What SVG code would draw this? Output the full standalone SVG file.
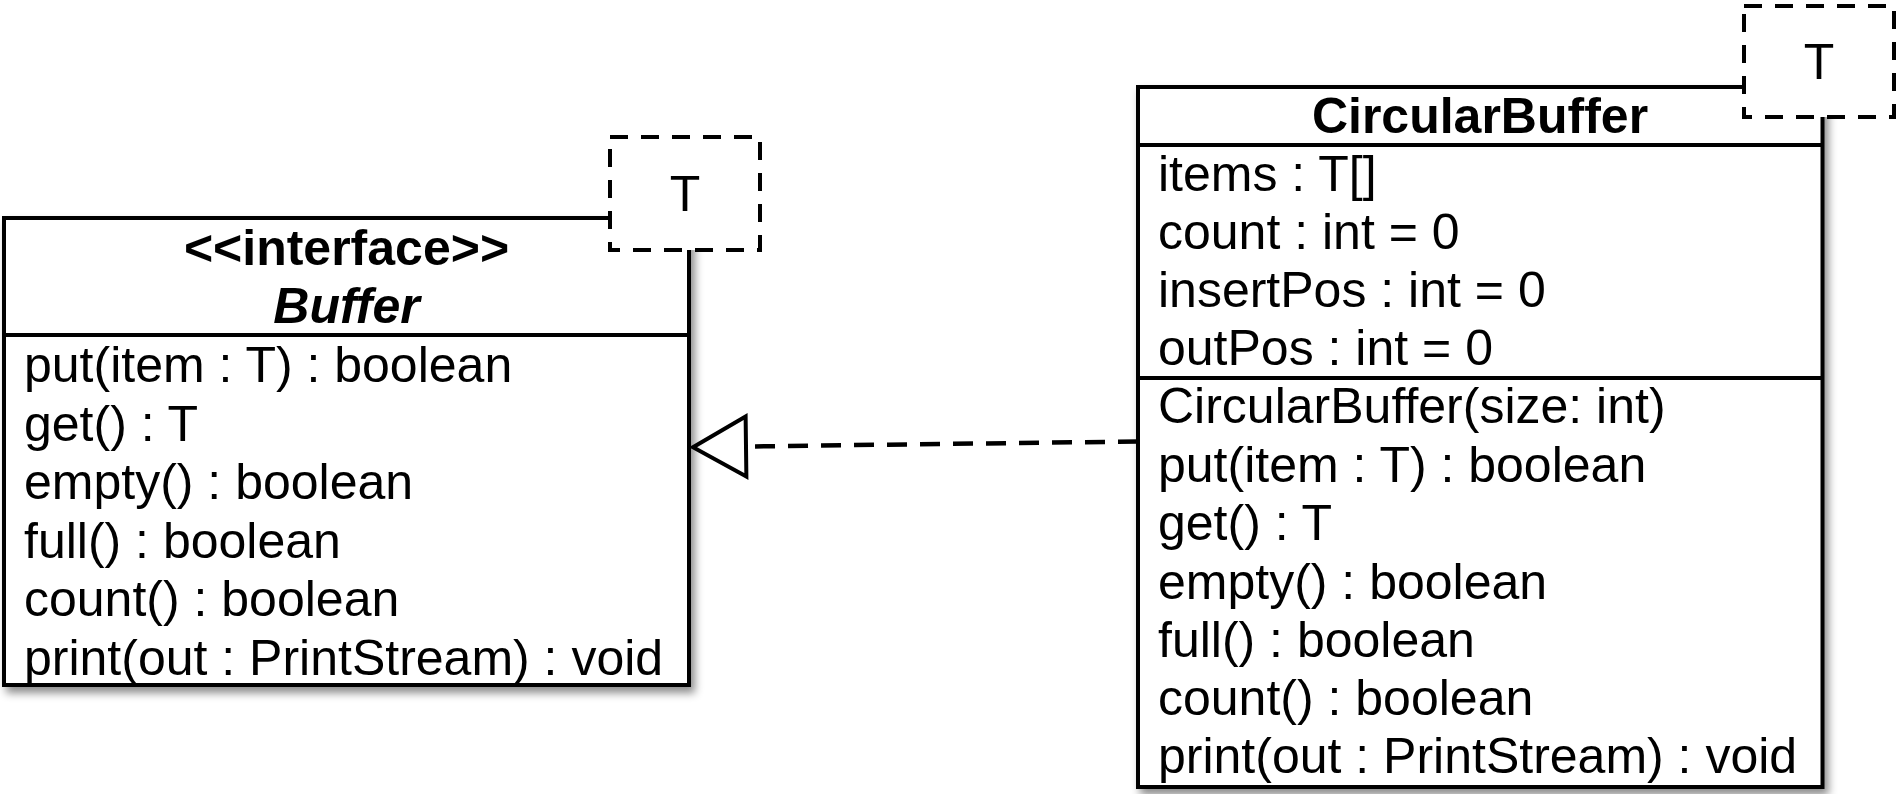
<svg xmlns="http://www.w3.org/2000/svg" width="1898" height="794" viewBox="0 0 1898 794">
  <style>
    text { font-family: "Liberation Sans", Arial, Helvetica, sans-serif; font-size: 50px; fill: #000; }
    .bold { font-weight: bold; }
    .bi { font-weight: bold; font-style: italic; }
    .box { fill: #fff; stroke: #000; stroke-width: 4; filter: url(#shadow); }
    .sep { stroke: #000; stroke-width: 4; }
    .tparam { fill: #fff; stroke: #000; stroke-width: 4; stroke-dasharray: 18 13; }
    .dep { fill: none; stroke: #000; stroke-width: 4.5; stroke-dasharray: 20 13; }
  </style>
  <defs>
    <filter id="shadow" x="-5%" y="-5%" width="115%" height="115%">
      <feDropShadow dx="4" dy="6" stdDeviation="4" flood-color="#000" flood-opacity="0.45"/>
    </filter>
    <marker id="realize" markerUnits="userSpaceOnUse" viewBox="-3 -34 62 68" markerWidth="62" markerHeight="68" refX="0" refY="0" orient="auto">
      <path d="M0,-30 L53,0 L0,30 Z" fill="#fff" stroke="#000" stroke-width="4" stroke-dasharray="none"/>
    </marker>
  </defs>

  <g id="connectors">
    <line class="dep" x1="1138" y1="441.5" x2="746" y2="446.5" marker-end="url(#realize)"/>
  </g>

  <g id="Buffer">
    <rect class="box" x="4" y="218" width="685" height="467"/>
    <line class="sep" x1="4" y1="335" x2="689" y2="335"/>
    <text class="bold" x="346.5" y="265" text-anchor="middle">&lt;&lt;interface&gt;&gt;</text>
    <text class="bi" x="346.5" y="323" text-anchor="middle">Buffer</text>
    <text x="24" y="382">put(item : T) : boolean</text>
    <text x="24" y="440.5">get() : T</text>
    <text x="24" y="499">empty() : boolean</text>
    <text x="24" y="557.5">full() : boolean</text>
    <text x="24" y="616">count() : boolean</text>
    <text x="24" y="674.5">print(out : PrintStream) : void</text>
  </g>
  <g id="Buffer-T">
    <rect class="tparam" x="610" y="137" width="150" height="113"/>
    <text x="685" y="211" text-anchor="middle">T</text>
  </g>

  <g id="CircularBuffer">
    <rect class="box" x="1138" y="87" width="684.5" height="700"/>
    <line class="sep" x1="1138" y1="145" x2="1822.5" y2="145"/>
    <line class="sep" x1="1138" y1="378" x2="1822.5" y2="378"/>
    <text class="bold" x="1480" y="133" text-anchor="middle">CircularBuffer</text>
    <text x="1158" y="191">items : T[]</text>
    <text x="1158" y="249">count : int = 0</text>
    <text x="1158" y="307">insertPos : int = 0</text>
    <text x="1158" y="365">outPos : int = 0</text>
    <text x="1158" y="423">CircularBuffer(size: int)</text>
    <text x="1158" y="481.5">put(item : T) : boolean</text>
    <text x="1158" y="540">get() : T</text>
    <text x="1158" y="598.5">empty() : boolean</text>
    <text x="1158" y="657">full() : boolean</text>
    <text x="1158" y="715">count() : boolean</text>
    <text x="1158" y="773">print(out : PrintStream) : void</text>
  </g>
  <g id="CircularBuffer-T">
    <rect class="tparam" x="1744" y="6" width="150" height="111"/>
    <text x="1819" y="79" text-anchor="middle">T</text>
  </g>
</svg>
